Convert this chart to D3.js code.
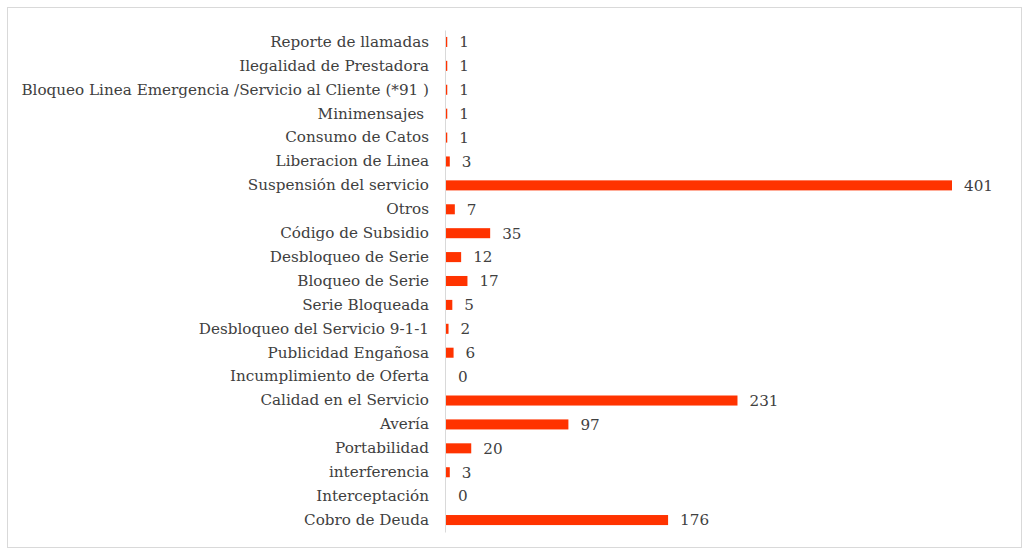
<!DOCTYPE html>
<html>
<head>
<meta charset="utf-8">
<script src="https://cdn.jsdelivr.net/npm/d3@7"></script>
<style>
  body { margin: 0; background: #fff; }
  svg text { font-family: "DejaVu Serif", "Liberation Serif", serif; fill: #404040; white-space: pre; }
</style>
</head>
<body>
<div id="chart"></div>
<script>
const categories = [
    'Reporte de llamadas',
    'Ilegalidad de Prestadora',
    'Bloqueo Linea Emergencia /Servicio al Cliente (*91 )',
    'Minimensajes ',
    'Consumo de Catos',
    'Liberacion de Linea',
    'Suspensión del servicio',
    'Otros',
    'Código de Subsidio',
    'Desbloqueo de Serie',
    'Bloqueo de Serie',
    'Serie Bloqueada',
    'Desbloqueo del Servicio 9-1-1',
    'Publicidad Engañosa',
    'Incumplimiento de Oferta',
    'Calidad en el Servicio',
    'Avería',
    'Portabilidad',
    'interferencia',
    'Interceptación',
    'Cobro de Deuda'
];
const values = [1, 1, 1, 1, 1, 3, 401, 7, 35, 12, 17, 5, 2, 6, 0, 231, 97, 20, 3, 0, 176];

const size = { w: 1023, h: 550 };
const margin = { top: 30, left: 445, right: 72, bottom: 18 };
const width = size.w - margin.left - margin.right;
const height = size.h - margin.top - margin.bottom;

const svg = d3.select('#chart').append('svg')
    .attr('width', size.w)
    .attr('height', size.h);

svg.append('rect')
    .attr('x', 7.5).attr('y', 7.5)
    .attr('width', size.w - 9).attr('height', size.h - 10)
    .attr('fill', 'none')
    .attr('stroke', '#d9d9d9');

const g = svg.append('g').attr('transform', `translate(${margin.left}, ${margin.top})`);

const data = categories.map((c, i) => ({ c, v: values[i] }));

const x = d3.scaleLinear().domain([0, 401]).range([0, 506]);
const y = d3.scaleBand().domain(categories).range([0, height]).paddingInner(0.58).paddingOuter(0.29);

g.append('g')
    .attr('class', 'axis-y')
    .call(d3.axisLeft(y).tickSize(0).tickPadding(16))
    .call(a => a.select('.domain').attr('stroke', '#d9d9d9'))
    .call(a => a.selectAll('text').style('font-size', '15.2px').attr('fill', '#404040'));

g.selectAll('.bar')
    .data(data)
    .enter().append('rect')
    .attr('class', 'bar')
    .attr('x', 1)
    .attr('y', d => y(d.c))
    .attr('width', d => x(d.v))
    .attr('height', y.bandwidth())
    .attr('fill', '#ff3300');

g.selectAll('.val')
    .data(data)
    .enter().append('text')
    .attr('class', 'val')
    .attr('x', d => x(d.v) + 13)
    .attr('y', d => y(d.c) + y.bandwidth() / 2)
    .attr('dy', '0.35em')
    .style('font-size', '15.2px')
    .text(d => d.v);
</script>
</body>
</html>
